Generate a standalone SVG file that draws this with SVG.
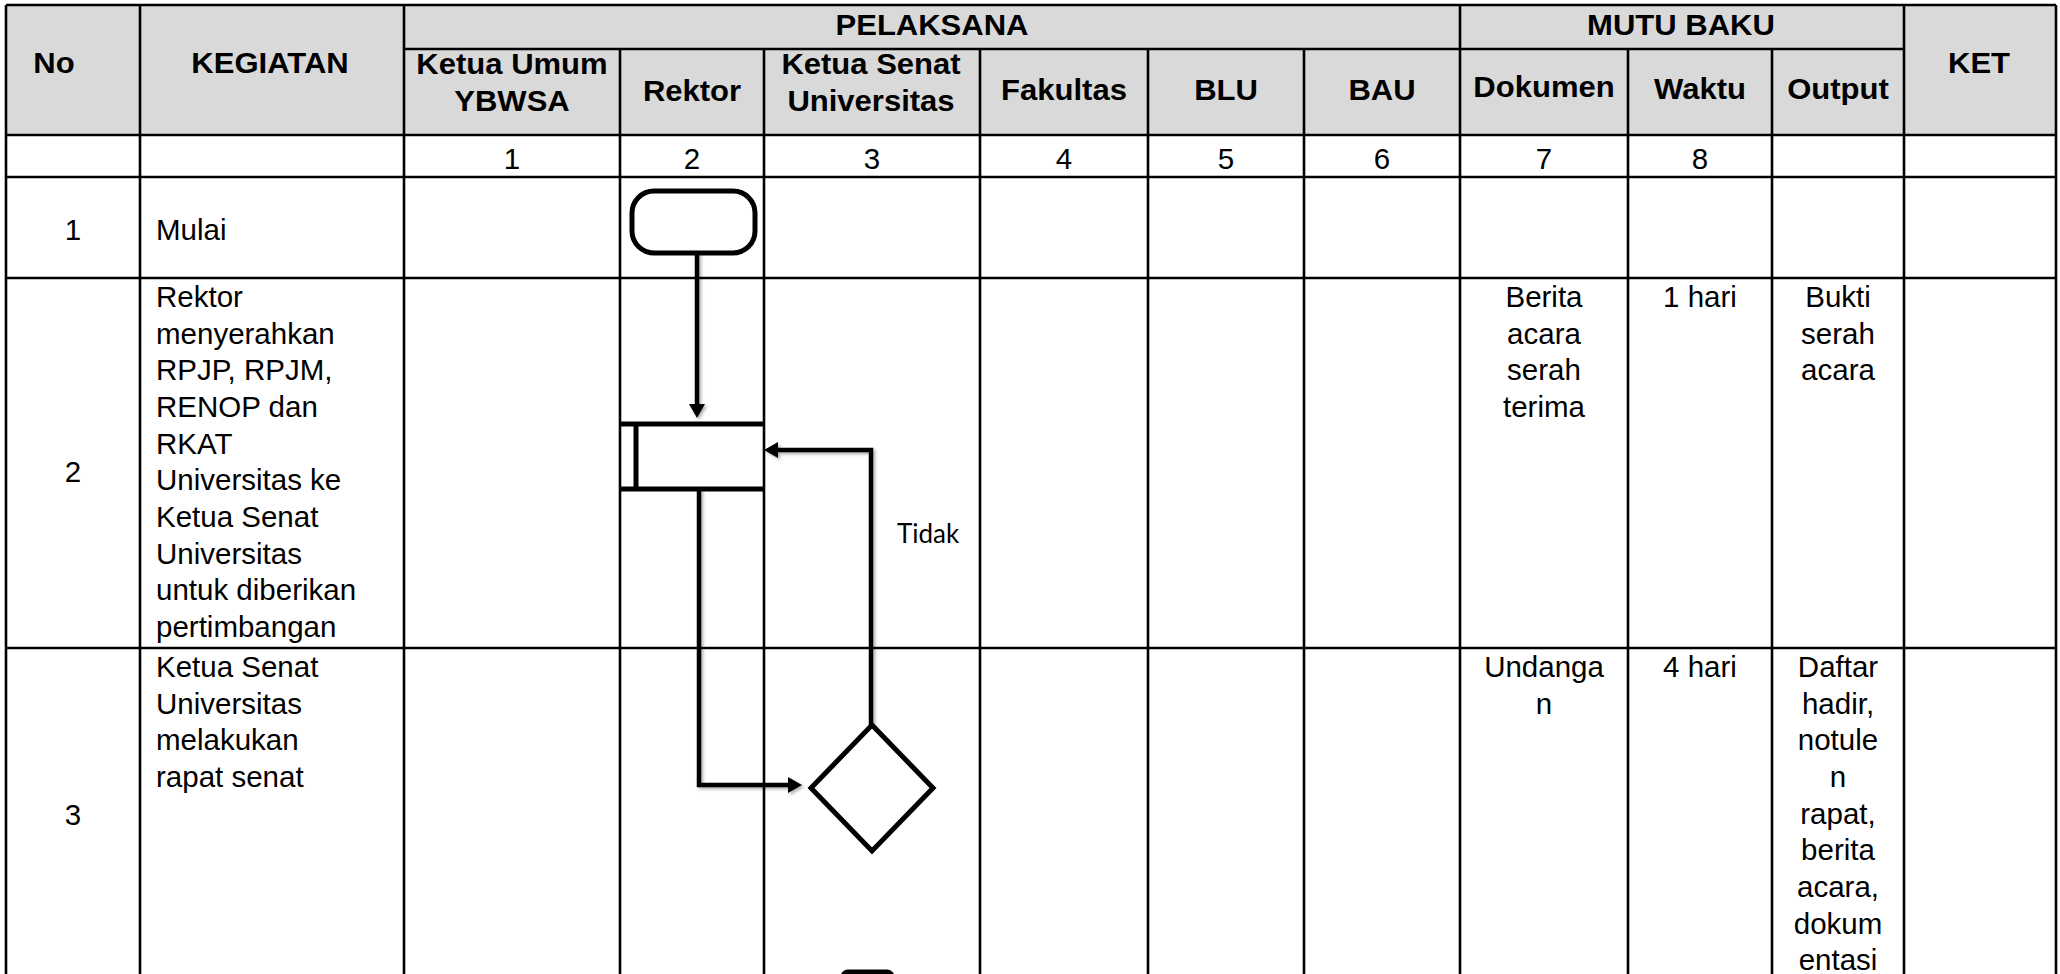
<svg xmlns="http://www.w3.org/2000/svg" width="2060" height="974" viewBox="0 0 2060 974">
<style>
.hd{font-family:"Liberation Sans",Arial,sans-serif;font-weight:bold;font-size:29px;fill:#000;text-anchor:middle}
.tx{font-family:"Liberation Sans",Arial,sans-serif;font-size:29.5px;fill:#000}
.c{text-anchor:middle}
.grid{stroke:#000;stroke-width:2.6;fill:none}
.shape{stroke:#000;stroke-width:5;fill:#fff}
.conn{stroke:#000;stroke-width:4.5;fill:none;filter:url(#sh)}
.lbl{font-family:Lato,"Open Sans",sans-serif;font-size:26px;fill:#000}
</style>
<defs>
<marker id="ah" markerUnits="userSpaceOnUse" markerWidth="15" markerHeight="17" refX="0" refY="8" orient="auto">
<path d="M0,0 L14,8 L0,16 z" fill="#000"/>
</marker>
<filter id="sh" filterUnits="userSpaceOnUse" x="0" y="0" width="2060" height="974">
<feDropShadow dx="2" dy="2" stdDeviation="1.5" flood-color="#000" flood-opacity="0.3"/>
</filter>
</defs>
<rect width="2060" height="974" fill="#fff"/>
<g id="table">
<rect x="6" y="5" width="2050" height="130" fill="#d9d9d9"/>
<g class="grid">
<path d="M6 5 H2056 M6 5 V974 M2056 5 V974 M140 5 V974 M404 5 V974 M1460 5 V974 M1904 5 V974"/>
<path d="M404 49 H1904"/>
<path d="M620 49 V974 M764 49 V974 M980 49 V974 M1148 49 V974 M1304 49 V974 M1628 49 V974 M1772 49 V974"/>
<path d="M6 135 H2056 M6 177 H2056 M6 278 H2056 M6 648 H2056"/>
</g>
<text class="hd" transform="translate(54,73) scale(1.07,1)">No</text>
<text class="hd" transform="translate(270,73) scale(1.07,1)">KEGIATAN</text>
<text class="hd" transform="translate(932,35) scale(1.07,1)">PELAKSANA</text>
<text class="hd" transform="translate(1681,35) scale(1.07,1)">MUTU BAKU</text>
<text class="hd" transform="translate(1979,73) scale(1.07,1)">KET</text>
<text class="hd" transform="translate(512,74) scale(1.07,1)">Ketua Umum</text>
<text class="hd" transform="translate(512,111) scale(1.07,1)">YBWSA</text>
<text class="hd" transform="translate(692,101) scale(1.07,1)">Rektor</text>
<text class="hd" transform="translate(871,74) scale(1.07,1)">Ketua Senat</text>
<text class="hd" transform="translate(871,111) scale(1.07,1)">Universitas</text>
<text class="hd" transform="translate(1064,100) scale(1.07,1)">Fakultas</text>
<text class="hd" transform="translate(1226,100) scale(1.07,1)">BLU</text>
<text class="hd" transform="translate(1382,100) scale(1.07,1)">BAU</text>
<text class="hd" transform="translate(1544,97) scale(1.07,1)">Dokumen</text>
<text class="hd" transform="translate(1700,99) scale(1.07,1)">Waktu</text>
<text class="hd" transform="translate(1838,99) scale(1.07,1)">Output</text>
<g class="tx c">
<text x="512" y="169">1</text>
<text x="692" y="169">2</text>
<text x="872" y="169">3</text>
<text x="1064" y="169">4</text>
<text x="1226" y="169">5</text>
<text x="1382" y="169">6</text>
<text x="1544" y="169">7</text>
<text x="1700" y="169">8</text>
</g>
</g>
<g id="row1" class="tx">
<text x="73" y="240" text-anchor="middle">1</text>
<text x="156" y="240">Mulai</text>
</g>
<g id="row2" class="tx">
<text x="73" y="482" text-anchor="middle">2</text>
<text x="156" y="307">Rektor</text>
<text x="156" y="344">menyerahkan</text>
<text x="156" y="380">RPJP, RPJM,</text>
<text x="156" y="417">RENOP dan</text>
<text x="156" y="454">RKAT</text>
<text x="156" y="490">Universitas ke</text>
<text x="156" y="527">Ketua Senat</text>
<text x="156" y="564">Universitas</text>
<text x="156" y="600">untuk diberikan</text>
<text x="156" y="637">pertimbangan</text>
<g text-anchor="middle">
<text x="1544" y="307">Berita</text>
<text x="1544" y="344">acara</text>
<text x="1544" y="380">serah</text>
<text x="1544" y="417">terima</text>
<text x="1700" y="307">1 hari</text>
<text x="1838" y="307">Bukti</text>
<text x="1838" y="344">serah</text>
<text x="1838" y="380">acara</text>
</g>
</g>
<g id="row3" class="tx">
<text x="73" y="825" text-anchor="middle">3</text>
<text x="156" y="677">Ketua Senat</text>
<text x="156" y="714">Universitas</text>
<text x="156" y="750">melakukan</text>
<text x="156" y="787">rapat senat</text>
<g text-anchor="middle">
<text x="1544" y="677">Undanga</text>
<text x="1544" y="714">n</text>
<text x="1700" y="677">4 hari</text>
<text x="1838" y="677">Daftar</text>
<text x="1838" y="714">hadir,</text>
<text x="1838" y="750">notule</text>
<text x="1838" y="787">n</text>
<text x="1838" y="824">rapat,</text>
<text x="1838" y="860">berita</text>
<text x="1838" y="897">acara,</text>
<text x="1838" y="934">dokum</text>
<text x="1838" y="970">entasi</text>
</g>
</g>
<g id="connectors">
<path class="conn" d="M697 253 V404" marker-end="url(#ah)"/>
<path class="conn" d="M871 725 V450 H778" marker-end="url(#ah)"/>
<path class="conn" d="M699 489 V785 H788" marker-end="url(#ah)"/>
<text class="lbl" x="897" y="543">Tidak</text>
</g>
<g id="node-start">
<rect class="shape" x="632" y="191" width="123" height="62" rx="22" ry="22"/>
</g>
<g id="node-process">
<path d="M620 424 H763 M620 489 H763 M636 424 V489" stroke="#000" stroke-width="5" fill="none"/>
</g>
<g id="node-decision">
<polygon class="shape" points="872,725 933,788 872,851 811,788"/>
</g>
<g id="node-next">
<rect class="shape" x="843" y="972" width="49" height="40" rx="5"/>
</g>
</svg>
